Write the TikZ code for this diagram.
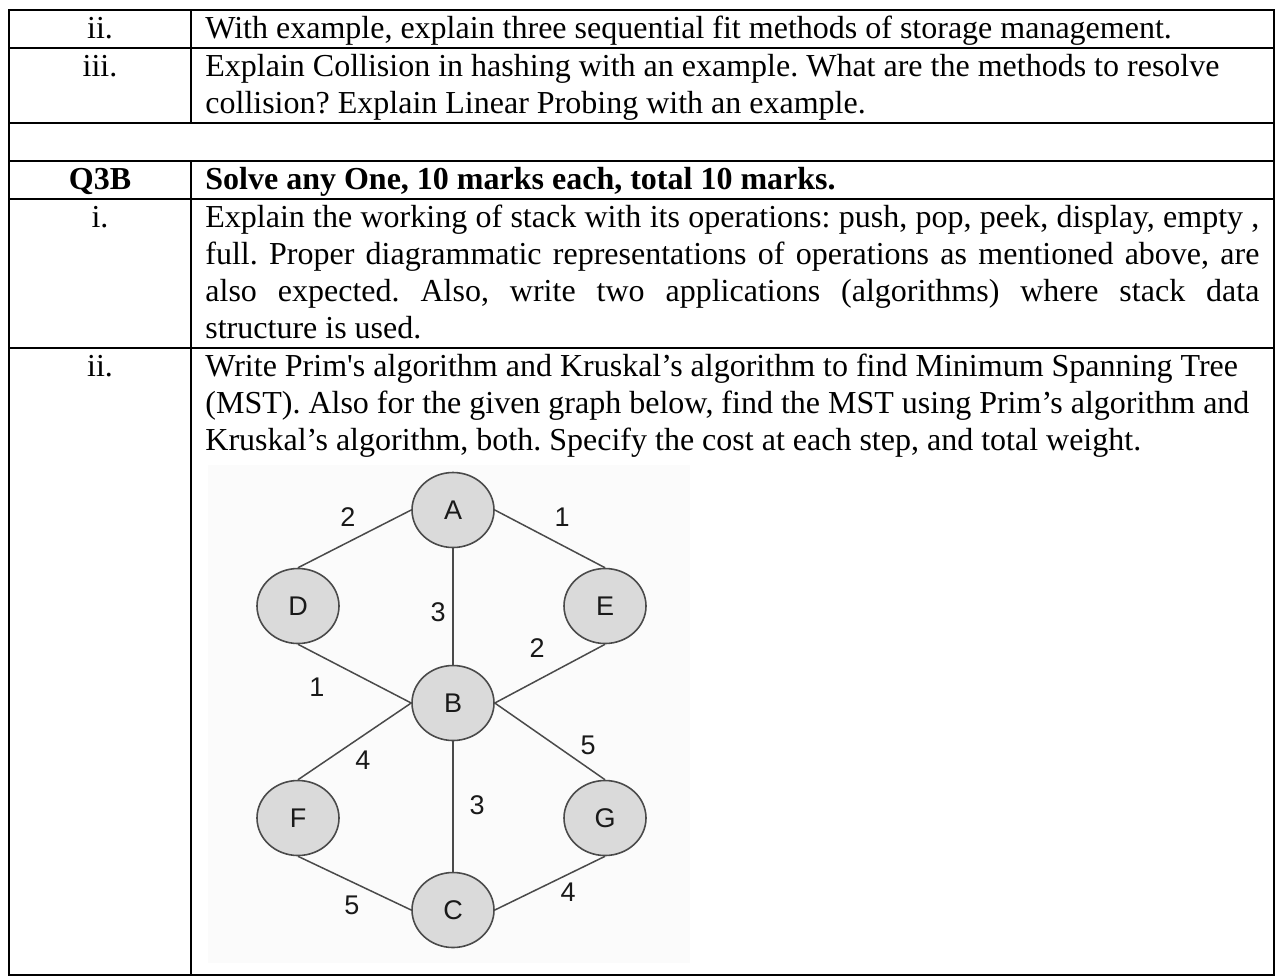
\documentclass[tikz,border=0pt]{standalone}
\usepackage{fontspec}
\setmainfont{Liberation Serif}[Ligatures=TeXOff]
\newfontfamily\graphfont{Liberation Sans}
\usetikzlibrary{shapes.geometric}
\frenchspacing

\definecolor{nodegray}{HTML}{DADADA}
\definecolor{edgegray}{HTML}{4A4A4A}
\definecolor{imgback}{HTML}{FBFBFB}

\tikzset{
  rule/.style={line width=1pt},
  num/.style={anchor=base, inner sep=0pt, font=\fontsize{16}{18.5}\selectfont},
  cell/.style={anchor=base west, inner sep=0pt, font=\fontsize{16}{18.5}\selectfont},
  vertex/.style={ellipse, draw=edgegray, fill=nodegray, line width=0.8pt,
    minimum width=41pt, minimum height=37.5pt, inner sep=0pt,
    font=\graphfont\fontsize{13.5}{13.5}\selectfont, text=black!90},
  weight/.style={inner sep=0pt, font=\graphfont\fontsize{13.5}{13.5}\selectfont, text=black!90},
  link/.style={draw=edgegray, line width=0.75pt}
}

\begin{document}
\begin{tikzpicture}[x=0.5pt,y=-0.5pt]
\useasboundingbox (0,0) rectangle (1277,976);

% table
\draw [rule] (9,10) rectangle (1274,975);
\draw [rule] (9,48) -- (1274,48);
\draw [rule] (9,123) -- (1274,123);
\draw [rule] (9,161) -- (1274,161);
\draw [rule] (9,199) -- (1274,199);
\draw [rule] (9,348) -- (1274,348);
\draw [rule] (191,10) -- (191,123);
\draw [rule] (191,161) -- (191,975);

\node [num] (n1) at (100,38) {ii.};
\node [num] (n2) at (100,76) {iii.};
\node [num] (n3) at (100,189) {\bfseries Q3B};
\node [num] (n4) at (100,227) {i.};
\node [num] (n5) at (100,376) {ii.};

\node [cell] (t1) at (205,38) {With example, explain three sequential fit methods of storage management.};
\node [cell] (t2) at (205,76) {\parbox[t]{527pt}{\raggedright Explain Collision in hashing with an example. What are the methods to resolve\\
  collision? Explain Linear Probing with an example.}};
\node [cell] (t3) at (205,189) {\bfseries Solve any One, 10 marks each, total 10 marks.};
\node [cell] (t4) at (205,227) {\parbox[t]{527pt}{Explain the working of stack with its operations: push, pop, peek, display, empty ,\linebreak
  full. Proper diagrammatic representations of operations as mentioned above, are\linebreak
  also expected. Also, write two applications (algorithms) where stack data\linebreak
  structure is used.}};
\node [cell] (t5) at (205,376) {\parbox[t]{527pt}{\raggedright Write Prim's algorithm and Kruskal’s algorithm to find Minimum Spanning Tree\\
  (MST). Also for the given graph below, find the MST using Prim’s algorithm and\\
  Kruskal’s algorithm, both. Specify the cost at each step, and total weight.}};

% graph
\fill [imgback] (208,465) rectangle (690,963);

\node [vertex] (A) at (453,510) {A};
\node [vertex] (D) at (298,606) {D};
\node [vertex] (E) at (605,606) {E};
\node [vertex] (B) at (453,703) {B};
\node [vertex] (F) at (298,818) {F};
\node [vertex] (G) at (605,818) {G};
\node [vertex] (C) at (453,910) {C};

\path [link] (A.west) edge (D.north);
\path [link] (A.east) edge (E.north);
\path [link] (A) edge (B);
\path [link] (D.south) edge (B.west);
\path [link] (E.south) edge (B.east);
\path [link] (B.west) edge (F.north);
\path [link] (B.east) edge (G.north);
\path [link] (B) edge (C);
\path [link] (F.south) edge (C.west);
\path [link] (G.south) edge (C.east);

\node [weight] (AD) at (348,517) {2};
\node [weight] (AE) at (562,517) {1};
\node [weight] (AB) at (438,612) {3};
\node [weight] (BE) at (537,648) {2};
\node [weight] (DB) at (317,687) {1};
\node [weight] (BF) at (363,760) {4};
\node [weight] (BG) at (588,745) {5};
\node [weight] (BC) at (477,805) {3};
\node [weight] (FC) at (352,905) {5};
\node [weight] (CG) at (568,892) {4};
\end{tikzpicture}
\end{document}
